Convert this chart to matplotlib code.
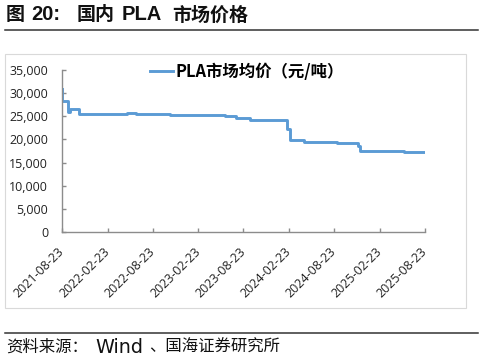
import pandas as pd
import matplotlib
matplotlib.use("Agg")
import matplotlib.pyplot as plt
import matplotlib.dates as mdates
from matplotlib.lines import Line2D
from matplotlib.patches import Rectangle
from matplotlib.ticker import FuncFormatter

# step changes of the PLA average market price (yuan/ton)
dates = ["2021-08-23", "2021-08-25", "2021-09-17", "2021-09-24", "2021-10-30",
         "2022-05-10", "2022-06-16", "2022-10-31", "2023-02-01", "2023-06-09",
         "2023-07-26", "2023-09-18", "2024-02-14", "2024-02-26", "2024-04-23",
         "2024-09-03", "2024-11-26", "2024-12-03", "2025-05-29", "2025-08-22"]
prices = [30900, 28200, 26000, 26600, 25500,
          25800, 25500, 25300, 25200, 25000,
          24600, 24200, 22300, 19900, 19500,
          19200, 18500, 17500, 17300, 17300]
tick_dates = ["2021-08-23", "2022-02-23", "2022-08-23", "2023-02-23", "2023-08-23",
              "2024-02-23", "2024-08-23", "2025-02-23", "2025-08-23"]
y_ticks = [0, 5000, 10000, 15000, 20000, 25000, 30000, 35000]

series_name = "PLA市场均价（元/吨）"
# title and source are set in pieces so the spacing matches the report
title_parts = [("图", 6, "cjk"), ("20:", 31, "lat"), ("国内", 77, "cjk"),
               ("PLA", 121.5, "lat"), ("市场价格", 172, "cjk")]
source_parts = [("资料来源：", 6, "cjk"), ("Wind", 95, "lat"),
                ("、国海证券研究所", 149, "cjk")]

CJK = ["Noto Sans CJK SC", "DejaVu Sans"]
LAT = ["Liberation Sans", "Noto Sans CJK SC"]
W, H = 484, 361
BLUE = "#5B9BD5"
GRAY = "#8c8c8c"

fig = plt.figure(figsize=(W / 100, H / 100), dpi=100)
ax = fig.add_axes([62 / W, 1 - 232 / H, (425 - 62) / W, (232 - 70) / H])

x = pd.to_datetime(dates)
ax.plot(x, prices, drawstyle="steps-post", color=BLUE, lw=2.1, label=series_name)

ax.set_xlim(pd.Timestamp(tick_dates[0]), pd.Timestamp(tick_dates[-1]))
ax.set_ylim(0, 35000)
ax.set_xticks(pd.to_datetime(tick_dates))
ax.xaxis.set_major_formatter(mdates.DateFormatter("%Y-%m-%d"))
ax.set_yticks(y_ticks)
ax.yaxis.set_major_formatter(FuncFormatter(lambda v, p: f"{v:,.0f}"))

for s in ["top", "right"]:
    ax.spines[s].set_visible(False)
for s in ["left", "bottom"]:
    ax.spines[s].set_color(GRAY)
    ax.spines[s].set_linewidth(1.0)

ax.tick_params(axis="both", direction="in", length=3, width=1, color=GRAY,
               labelsize=9, labelcolor="#222222")
ax.tick_params(axis="y", pad=10)
ax.tick_params(axis="x", pad=13)
for lab in ax.get_xticklabels():
    lab.set_rotation(45)
    lab.set_ha("right")
    lab.set_va("center")
    lab.set_rotation_mode("anchor")
for lab in ax.get_xticklabels() + ax.get_yticklabels():
    lab.set_family("Open Sans")

ax.legend(loc="center left", bbox_to_anchor=(150 / W, 1 - 71.5 / H),
          bbox_transform=fig.transFigure, frameon=False, handlelength=1.4,
          handletextpad=0.15, borderpad=0, borderaxespad=0,
          prop={"family": CJK, "size": 11.8, "weight": "bold"})

# frame around the chart area and the report rules
fig.add_artist(Rectangle((5 / W, 1 - 307.5 / H), 461 / W, (307.5 - 54) / H,
                         transform=fig.transFigure, fill=False,
                         ec="#d9d9d9", lw=0.8))
fig.add_artist(Line2D([5 / W, 478 / W], [1 - 30 / H] * 2, color="#333333", lw=1.1))
fig.add_artist(Line2D([5 / W, 478 / W], [1 - 333 / H] * 2, color="#333333", lw=1.1))

for txt, px, kind in title_parts:
    fig.text(px / W, 1 - 15 / H, txt, family=CJK if kind == "cjk" else LAT,
             size=13.7 if kind == "cjk" else 14.5, weight="bold",
             va="center", ha="left", color="#111111")
for txt, px, kind in source_parts:
    fig.text(px / W, 1 - 347.5 / H, txt,
             family=CJK if kind == "cjk" else ["DejaVu Sans"],
             size=11.8 if kind == "cjk" else 13.8, va="center", ha="left",
             color="#111111")

fig.savefig("out.png", dpi=100)
